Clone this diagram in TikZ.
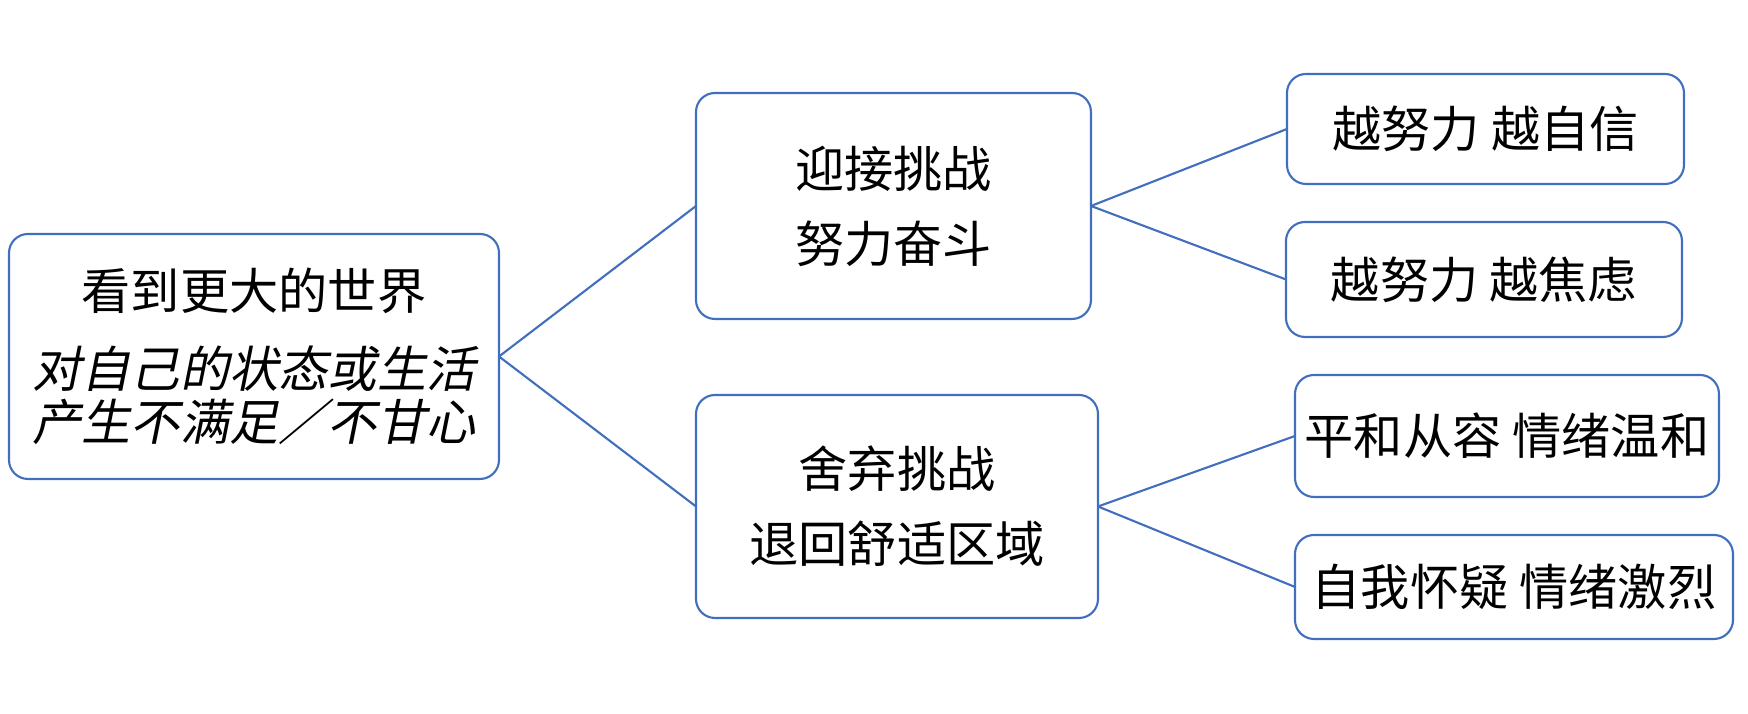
\documentclass[tikz,border=0pt]{standalone}
\usepackage{fontspec}
\newfontfamily\cjk{Noto Sans CJK SC}
\newfontfamily\cjkit[FakeSlant=0.2]{Noto Sans CJK SC}
\definecolor{vien}{RGB}{66,110,190}
\tikzset{
	hop/.style={draw=vien,line width=0.6pt,rounded corners=0.19cm,inner sep=0pt,outer sep=0pt,align=center,font=\cjk\fontsize{14}{21.3}\selectfont},
	noi/.style={draw=vien,line width=0.6pt}
}
\begin{document}
\begin{tikzpicture}[line join=round,line cap=round]
	\useasboundingbox (0,0) rectangle (17.48,7.14);
	% hop ben trai
	\node[hop,minimum width=4.90cm,minimum height=2.45cm,font=\cjk\fontsize{14}{15.1}\selectfont] (goc) at (2.54,3.575)
	{看到更大的世界\\[7.1pt]{\cjkit 对自己的状态或生活}\\{\cjkit 产生不满足／不甘心}};
	% hai hop giua
	\node[hop,minimum width=3.95cm,minimum height=2.26cm] (nhan) at (8.935,5.08) {迎接挑战\\努力奋斗};
	\node[hop,minimum width=4.02cm,minimum height=2.23cm] (bo) at (8.97,2.075) {舍弃挑战\\退回舒适区域};
	% bon hop ben phai
	\node[hop,minimum width=3.97cm,minimum height=1.10cm] (tuTin) at (14.855,5.85) {越努力 越自信};
	\node[hop,minimum width=3.96cm,minimum height=1.15cm] (loAu) at (14.84,4.345) {越努力 越焦虑};
	\node[hop,minimum width=4.24cm,minimum height=1.22cm] (onHoa) at (15.07,2.78) {平和从容 情绪温和};
	\node[hop,minimum width=4.38cm,minimum height=1.04cm] (nghiNgo) at (15.14,1.27) {自我怀疑 情绪激烈};
	% ve duong noi
	\foreach \a/\b in {goc/nhan,goc/bo,nhan/tuTin,nhan/loAu,bo/onHoa,bo/nghiNgo}
	\draw[noi] (\a.east)--(\b.west);
\end{tikzpicture}
\end{document}
